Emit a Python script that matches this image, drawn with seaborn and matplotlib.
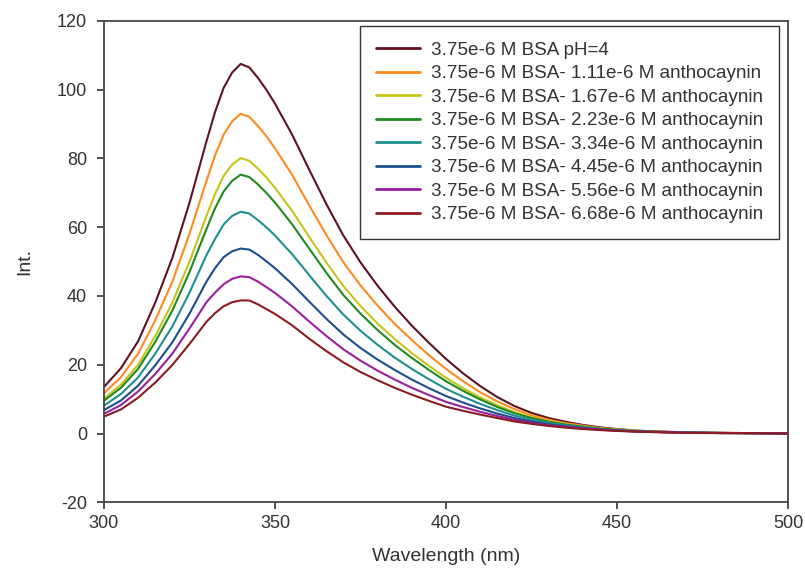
import numpy as np
import pandas as pd
import matplotlib
matplotlib.use("Agg")
import matplotlib.pyplot as plt
import seaborn as sns

# Emission wavelengths (nm)
wavelength = [300, 305, 310, 315, 320, 325, 330, 332.5, 335, 337.5, 340, 342.5, 345, 347.5,
              350, 355, 360, 365, 370, 375, 380, 385, 390, 395, 400, 405, 410, 415, 420,
              425, 430, 435, 440, 445, 450, 455, 460, 470, 480, 490, 500]

# Fluorescence intensity of each sample
bsa_ph4 = [13.5, 19.0, 26.8, 38.0, 51.0, 67.0, 85.0, 93.5, 100.5, 105.0, 107.5, 106.5, 103.5, 100.0,
           96.0, 87.0, 76.8, 66.8, 57.6, 49.8, 43.0, 36.9, 31.4, 26.4, 21.7, 17.5, 13.8, 10.6, 8.0,
           6.0, 4.5, 3.4, 2.5, 1.8, 1.3, 0.9, 0.65, 0.35, 0.2, 0.1, 0.0]
antho_111 = [11.7, 16.4, 23.2, 32.9, 44.1, 58.0, 73.5, 80.9, 86.9, 90.8, 93.0, 92.1, 89.5, 86.5,
             83.0, 75.3, 66.4, 57.8, 49.8, 43.1, 37.2, 31.9, 27.2, 22.8, 18.8, 15.2, 12.0, 9.3, 7.1,
             5.3, 4.0, 3.0, 2.3, 1.6, 1.2, 0.8, 0.6, 0.3, 0.2, 0.1, 0.0]
antho_167 = [10.1, 14.2, 20.0, 28.3, 38.0, 49.9, 63.3, 69.7, 74.9, 78.2, 80.1, 79.3, 77.1, 74.5,
             71.5, 64.8, 57.2, 49.8, 42.9, 37.1, 32.0, 27.5, 23.4, 19.7, 16.2, 13.2, 10.5, 8.2, 6.2,
             4.7, 3.6, 2.7, 2.0, 1.5, 1.1, 0.8, 0.55, 0.3, 0.15, 0.1, 0.0]
antho_223 = [9.5, 13.3, 18.8, 26.6, 35.7, 46.9, 59.5, 65.5, 70.4, 73.5, 75.3, 74.6, 72.5, 70.0,
             67.2, 60.9, 53.8, 46.8, 40.3, 34.9, 30.1, 25.8, 22.0, 18.5, 15.2, 12.4, 9.9, 7.7, 5.9,
             4.5, 3.4, 2.6, 2.0, 1.4, 1.05, 0.75, 0.55, 0.3, 0.15, 0.1, 0.0]
antho_334 = [8.1, 11.5, 16.3, 23.2, 31.1, 40.9, 51.9, 56.6, 60.8, 63.3, 64.5, 64.0, 62.1, 60.0,
             57.6, 52.2, 46.1, 40.1, 34.6, 29.9, 25.8, 22.1, 18.8, 15.8, 13.0, 10.7, 8.6, 6.8, 5.2,
             4.0, 3.1, 2.4, 1.8, 1.3, 0.95, 0.7, 0.5, 0.3, 0.15, 0.1, 0.0]
antho_445 = [6.8, 9.6, 13.9, 19.8, 26.5, 34.8, 44.2, 48.1, 51.3, 53.0, 53.8, 53.5, 52.0, 50.1,
             48.1, 43.5, 38.4, 33.4, 28.8, 24.9, 21.5, 18.5, 15.7, 13.2, 10.9, 9.0, 7.3, 5.8, 4.5,
             3.5, 2.7, 2.1, 1.6, 1.2, 0.9, 0.65, 0.5, 0.25, 0.15, 0.1, 0.0]
antho_556 = [5.7, 8.3, 12.2, 17.3, 23.2, 30.5, 38.2, 41.0, 43.4, 45.0, 45.7, 45.5, 44.2, 42.6,
             40.9, 37.0, 32.6, 28.4, 24.5, 21.2, 18.3, 15.7, 13.3, 11.2, 9.2, 7.7, 6.3, 5.1, 4.0,
             3.1, 2.4, 1.9, 1.5, 1.1, 0.8, 0.6, 0.45, 0.25, 0.15, 0.1, 0.0]
antho_668 = [4.9, 7.0, 10.4, 14.8, 19.9, 26.0, 32.5, 35.0, 37.0, 38.2, 38.7, 38.7, 37.6, 36.2,
             34.8, 31.5, 27.6, 24.0, 20.7, 17.9, 15.5, 13.3, 11.3, 9.5, 7.8, 6.6, 5.5, 4.5, 3.5,
             2.8, 2.2, 1.7, 1.3, 1.0, 0.75, 0.55, 0.4, 0.2, 0.1, 0.1, 0.0]

labels = [
    "3.75e-6 M BSA pH=4",
    "3.75e-6 M BSA- 1.11e-6 M anthocaynin",
    "3.75e-6 M BSA- 1.67e-6 M anthocaynin",
    "3.75e-6 M BSA- 2.23e-6 M anthocaynin",
    "3.75e-6 M BSA- 3.34e-6 M anthocaynin",
    "3.75e-6 M BSA- 4.45e-6 M anthocaynin",
    "3.75e-6 M BSA- 5.56e-6 M anthocaynin",
    "3.75e-6 M BSA- 6.68e-6 M anthocaynin",
]
series = [bsa_ph4, antho_111, antho_167, antho_223, antho_334, antho_445, antho_556, antho_668]
colors = ["#5e1222", "#ff8a1e", "#c4c41a", "#1f8a1f", "#1f8f8f", "#1c4f8c", "#9a1f9e", "#8a1c22"]

frames = [pd.DataFrame({"Wavelength": wavelength, "Int": vals, "sample": lab})
          for lab, vals in zip(labels, series)]
df = pd.concat(frames, ignore_index=True)

sns.set_style("ticks")
plt.rcParams["font.family"] = ["Liberation Sans", "DejaVu Sans"]
plt.rcParams["axes.unicode_minus"] = False

fig = plt.figure(figsize=(8.05, 5.82), dpi=100)
ax = fig.add_axes([0.129, 0.137, 0.850, 0.827])

sns.lineplot(data=df, x="Wavelength", y="Int", hue="sample", hue_order=labels,
             palette=dict(zip(labels, colors)), linewidth=1.5, ax=ax, sort=True)

ax.set_xlim(300, 500)
ax.set_ylim(-20, 120)
ax.set_xticks([300, 350, 400, 450, 500])
ax.set_yticks([-20, 0, 20, 40, 60, 80, 100, 120])
ax.tick_params(axis="both", direction="out", length=5, width=1.2, colors="#333333",
               labelsize=13, labelcolor="#333333", top=False, right=False)
ax.tick_params(axis="y", pad=7)
ax.tick_params(axis="x", pad=4)
for sp in ax.spines.values():
    sp.set_visible(True)
    sp.set_color("#444444")
    sp.set_linewidth(1.3)

ax.set_xlabel("Wavelength (nm)", fontsize=14, color="#333333", labelpad=12)
ax.set_ylabel("Int.", fontsize=14, color="#333333", labelpad=17)

leg = ax.legend(loc="upper right", bbox_to_anchor=(0.987, 0.99), fontsize=13.6,
                frameon=True, fancybox=False, edgecolor="#333333", framealpha=1,
                handlelength=2.3, handletextpad=0.6, labelspacing=0.33,
                borderpad=0.85, borderaxespad=0)
leg.get_frame().set_linewidth(1.0)
for t in leg.get_texts():
    t.set_color("#333333")
for h in leg.get_lines():
    h.set_linewidth(2.0)

fig.savefig("out.png", dpi=100)
